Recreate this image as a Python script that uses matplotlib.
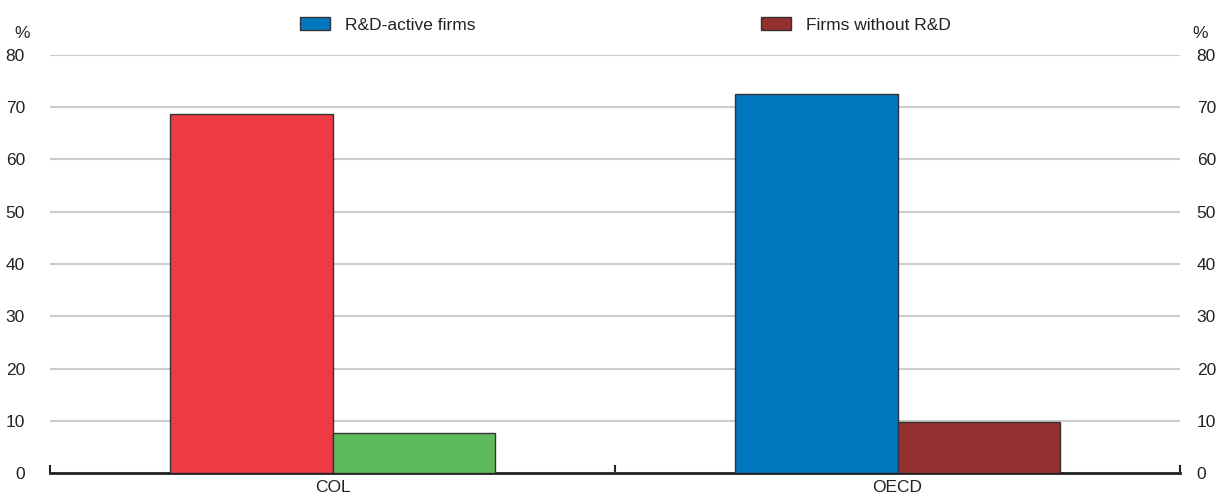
import numpy as np
import matplotlib.pyplot as plt
from matplotlib.patches import Patch

plt.rcParams['font.family'] = ['Liberation Sans', 'DejaVu Sans']

# data
categories = ["COL", "OECD"]
rd_active = [68.7, 72.5]
no_rd = [7.7, 9.8]
legend_labels = ["R&D-active firms", "Firms without R&D"]

# colours: COL highlighted, OECD normal
col_active = ["#EE3A43", "#0077BE"]
col_no = ["#5EBB5D", "#943130"]
edge = "#333333"
txt = "#222222"
fs = 12.5

fig = plt.figure(figsize=(12.19, 4.98), dpi=100)
ax = fig.add_axes([50 / 1219, 1 - 473 / 498, 1130 / 1219, (473 - 55) / 498])

x = np.arange(len(categories))
w = 0.287
ax.bar(x - w / 2, rd_active, w, color=col_active, edgecolor=edge, linewidth=1, zorder=3)
ax.bar(x + w / 2, no_rd, w, color=col_no, edgecolor=edge, linewidth=1, zorder=3)

ax.set_xlim(-0.5, len(categories) - 0.5)
ax.set_ylim(0, 80)
ax.set_yticks(np.arange(0, 81, 10))
ax.yaxis.grid(True, color="#cccccc", linewidth=1.5, zorder=0)
ax.set_axisbelow(True)

ax.set_xticks(x)
ax.set_xticklabels(categories)
ax.set_xticks(np.arange(-0.5, len(categories), 1), minor=True)
ax.tick_params(axis="x", which="major", length=0, labelsize=fs, pad=5, labelcolor=txt)
ax.tick_params(axis="x", which="minor", direction="in", length=6, width=1.5, color=txt)
ax.tick_params(axis="y", length=0, labelsize=fs, pad=18, labelcolor=txt)

# right hand axis labels
ax2 = ax.twinx()
ax2.set_ylim(ax.get_ylim())
ax2.set_yticks(np.arange(0, 81, 10))
ax2.tick_params(axis="y", length=0, labelsize=fs, pad=12, labelcolor=txt)

for a in [ax, ax2]:
    for s in ["left", "right", "top"]:
        a.spines[s].set_visible(False)
ax2.spines["bottom"].set_visible(False)
ax.spines["bottom"].set_linewidth(2)
ax.spines["bottom"].set_color(txt)

fig.text(22 / 1219, 1 - 33 / 498, "%", fontsize=fs, ha="center", va="center", color=txt)
fig.text(1200 / 1219, 1 - 33 / 498, "%", fontsize=fs, ha="center", va="center", color=txt)

handles = [Patch(facecolor=col_active[1], edgecolor=edge),
           Patch(facecolor=col_no[1], edgecolor=edge)]
for h, lab, lx in zip(handles, legend_labels, [300, 761]):
    fig.legend([h], [lab], loc="center left", bbox_to_anchor=(lx / 1219, 1 - 25 / 498),
               frameon=False, fontsize=fs, handlelength=1.72, handleheight=0.8,
               handletextpad=0.9, borderpad=0, borderaxespad=0, labelcolor=txt)

fig.savefig("out.png", dpi=100)
